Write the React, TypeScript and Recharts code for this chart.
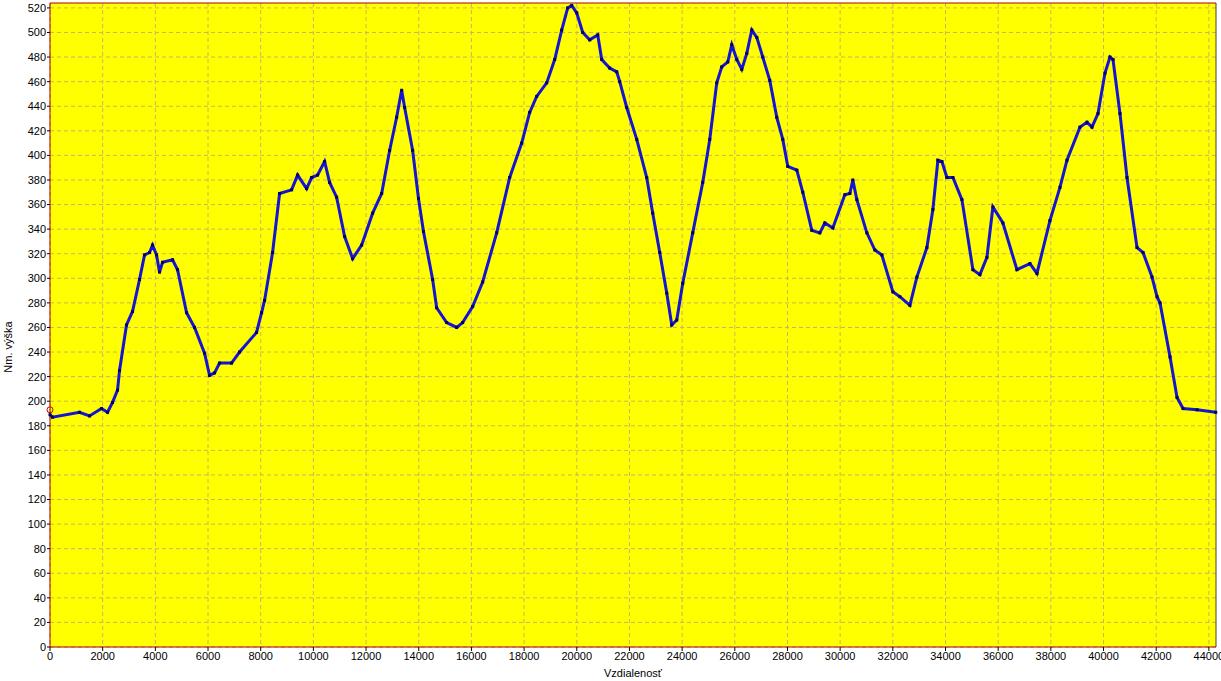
import { LineChart, Line, XAxis, YAxis, CartesianGrid, ReferenceLine, ReferenceDot } from 'recharts';

// elevation profile, distance in metres
const distance = [
  0, 95, 1120, 1500, 1956, 2184, 2374, 2564, 2640, 2905, 3133, 3399, 3589, 3779, 3893, 4045, 4159, 4273,
  4653, 4843, 5185, 5488, 5868, 6058, 6248, 6438, 6894, 7197, 7843, 8033, 8147, 8451, 8717, 9173, 9401,
  9743, 9933, 10160, 10426, 10616, 10882, 11186, 11490, 11832, 12250, 12592, 12895, 13161, 13351, 13465,
  13769, 13990, 14180, 14528, 14680, 15060, 15440, 15667, 16047, 16427, 16959, 17453, 17909, 18212, 18478,
  18858, 19162, 19428, 19656, 19808, 19998, 20226, 20492, 20796, 20947, 21251, 21517, 21631, 21897, 22277,
  22656, 22884, 23150, 23416, 23606, 23796, 24024, 24403, 24783, 25049, 25315, 25505, 25733, 25885, 26075,
  26265, 26455, 26645, 26835, 27062, 27328, 27594, 27822, 28012, 28354, 28582, 28924, 29228, 29418, 29722,
  30178, 30368, 30482, 30634, 31014, 31318, 31584, 32002, 32268, 32647, 32913, 33293, 33521, 33711, 33863,
  34053, 34281, 34623, 35040, 35306, 35572, 35800, 36180, 36712, 37206, 37472, 37965, 38345, 38611, 39105,
  39371, 39561, 39789, 40055, 40245, 40359, 40625, 40891, 41271, 41499, 41841, 42031, 42145, 42525, 42791,
  43019, 43551, 44260,
];

const elevation = [
  189, 187, 191, 188, 194, 191, 199, 209, 225, 262, 273, 299, 319, 321, 327, 319, 305, 313,
  315, 307, 272, 260, 239, 221, 223, 231, 231, 240, 256, 272, 282, 321, 369, 372, 384,
  373, 382, 384, 395, 378, 366, 334, 316, 327, 353, 369, 404, 431, 453, 439,
  404, 365, 338, 299, 276, 264, 260, 264, 277, 297, 337, 382, 410, 435, 448,
  459, 478, 502, 520, 522, 516, 500, 494, 498, 478, 471, 468, 460, 439, 413,
  382, 353, 321, 288, 262, 266, 296, 337, 378, 413, 459, 472, 476, 490, 478,
  470, 483, 502, 496, 480, 461, 431, 413, 391, 388, 370, 339, 337, 345, 341,
  368, 369, 380, 364, 337, 323, 319, 289, 285, 278, 301, 325, 356, 396, 395,
  382, 382, 364, 307, 303, 317, 358, 345, 307, 312, 304, 347, 374, 396, 423,
  427, 423, 434, 467, 480, 478, 434, 382, 325, 321, 301, 285, 280, 236, 203,
  194, 193, 191,
];

const xTicks = [
  0, 2000, 4000, 6000, 8000, 10000, 12000, 14000, 16000, 18000, 20000, 22000,
  24000, 26000, 28000, 30000, 32000, 34000, 36000, 38000, 40000, 42000, 44000,
];
const yTicks = [
  0, 20, 40, 60, 80, 100, 120, 140, 160, 180, 200, 220, 240, 260, 280, 300, 320,
  340, 360, 380, 400, 420, 440, 460, 480, 500, 520,
];

const data = distance.map((d, i) => ({ dist: d, alt: elevation[i] }));

const font = '"Liberation Sans", Arial, sans-serif';
const tickStyle = { fontSize: 11, fill: '#000', fontFamily: font };

const SquareDot = (props: any) => {
  const { cx, cy, index } = props;
  if (cx == null || cy == null) return <g key={index} />;
  return <rect key={index} x={cx - 1.5} y={cy - 1.5} width={3} height={3} fill="#000066" />;
};

export default function App() {
  return (
    <div style={{ position: 'absolute', left: 0, top: 0, width: 1221, height: 681, background: '#fff' }}>
      <LineChart width={1221} height={681} data={data} margin={{ top: 3, right: 5, bottom: 0, left: 0 }}>
        <CartesianGrid
          fill="#ffff00"
          stroke="#c8b464"
          strokeDasharray="4 3"
          horizontalValues={yTicks}
          verticalValues={xTicks}
        />
        <XAxis
          dataKey="dist"
          type="number"
          domain={[0, 44270]}
          ticks={xTicks}
          interval={0}
          tick={tickStyle}
          tickSize={4}
          tickMargin={1}
          axisLine={{ stroke: '#b00000' }}
          tickLine={{ stroke: '#000' }}
          height={34}
          label={{
            content: () => (
              <text x={633} y={677} textAnchor="middle" fontSize={11} fontFamily={font} fill="#000">
                Vzdialenosť
              </text>
            ),
          }}
        />
        <YAxis
          type="number"
          domain={[0, 524]}
          ticks={yTicks}
          interval={0}
          tick={tickStyle}
          tickSize={3}
          tickMargin={1}
          width={50}
          axisLine={{ stroke: '#b00000' }}
          tickLine={{ stroke: '#000' }}
          label={{
            content: () => (
              <text
                x={12}
                y={347}
                transform="rotate(-90 12 347)"
                textAnchor="middle"
                fontSize={11}
                fontFamily={font}
                fill="#000"
              >
                Nm. výška
              </text>
            ),
          }}
        />
        <ReferenceLine y={524} stroke="#b00000" />
        <ReferenceLine x={44270} stroke="#404040" />
        <Line
          type="linear"
          dataKey="alt"
          stroke="#1414d2"
          strokeWidth={3}
          dot={SquareDot}
          activeDot={false}
          isAnimationActive={false}
        />
        <ReferenceDot x={0} y={193} r={3} fill="none" stroke="#c00000" />
      </LineChart>
    </div>
  );
}
